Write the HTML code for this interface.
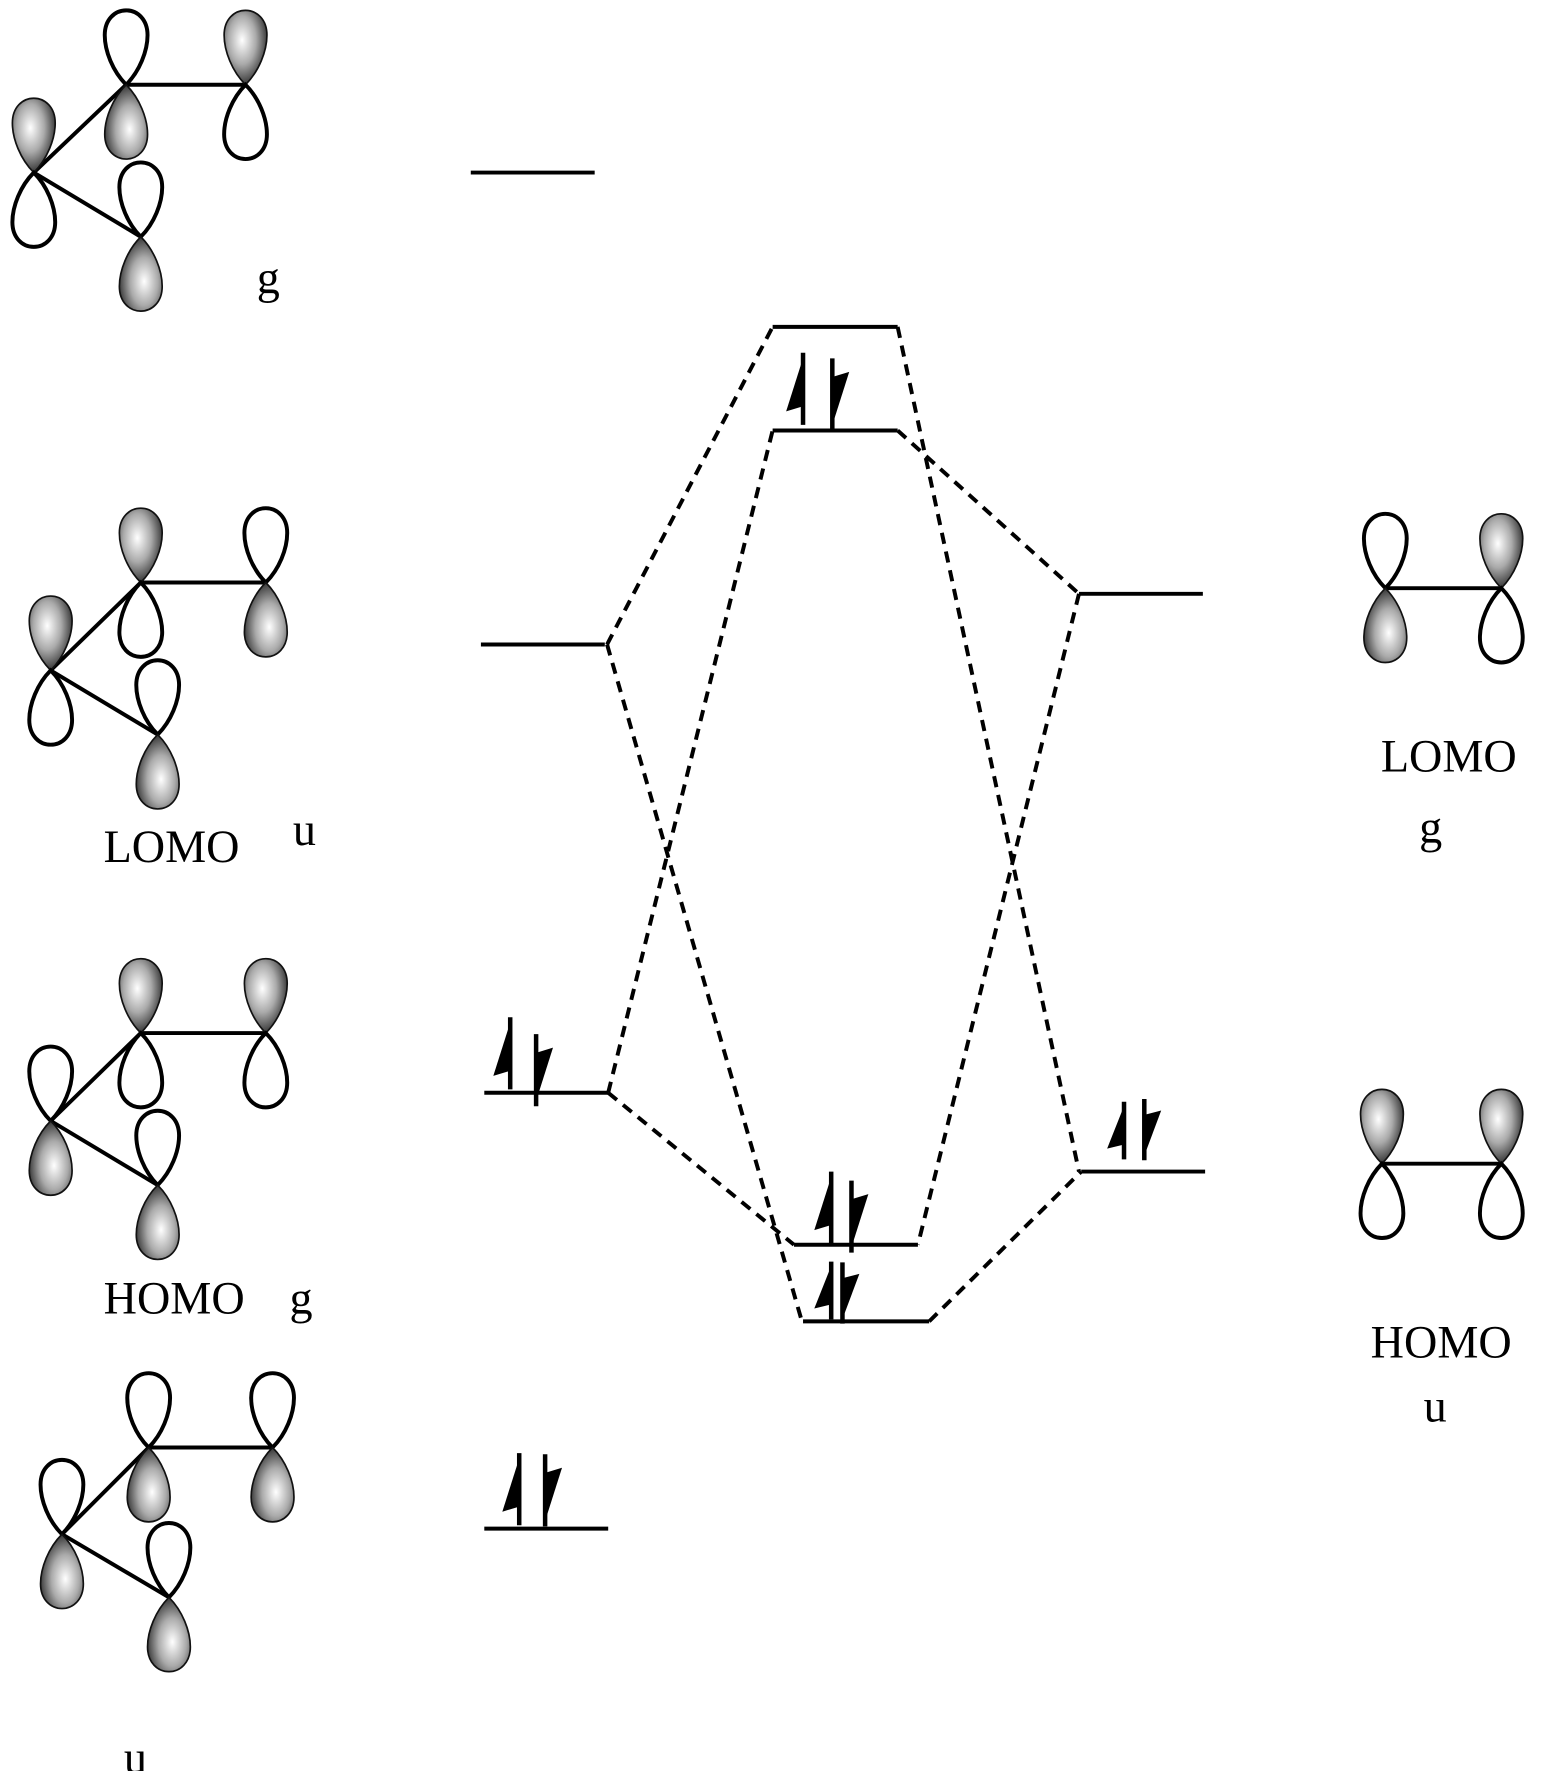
<!DOCTYPE html>
<html><head><meta charset="utf-8"><style>html,body{margin:0;padding:0;background:#fff}svg{display:block}</style></head>
<body>
<svg width="1543" height="1771" viewBox="0 0 1370 1572" xmlns="http://www.w3.org/2000/svg">
<defs>
<radialGradient id="sh" cx="0.42" cy="0.4" r="0.65">
<stop offset="0" stop-color="#fff"/><stop offset="0.5" stop-color="#aaa"/><stop offset="1" stop-color="#222"/>
</radialGradient>
<path id="lw" d="M0,0 C-12,-12 -19,-30 -19,-44 C-19,-58 -10,-66 0,-66 C10,-66 19,-58 19,-44 C19,-30 12,-12 0,0Z" fill="#fff" stroke="#000" stroke-width="3.5"/>
<path id="ls" d="M0,0 C-12,-12 -19,-30 -19,-44 C-19,-58 -10,-66 0,-66 C10,-66 19,-58 19,-44 C19,-30 12,-12 0,0Z" fill="url(#sh)" stroke="#111" stroke-width="1.5"/>
<g id="up"><line x1="0" y1="0" x2="0" y2="64" stroke="#000" stroke-width="4"/><path d="M1.5,0 L-15,52 L1.5,47 Z" fill="#000"/></g>
</defs>
<g font-family="Liberation Serif, serif" font-size="41" fill="#000">
<g stroke="#000" stroke-width="3.5">
<line x1="112" y1="75" x2="218" y2="75"/><line x1="112" y1="75" x2="30" y2="153"/><line x1="30" y1="153" x2="125" y2="210"/>
<line x1="125" y1="517" x2="236" y2="517"/><line x1="125" y1="517" x2="45" y2="595"/><line x1="45" y1="595" x2="140" y2="652"/>
<line x1="125" y1="917" x2="236" y2="917"/><line x1="125" y1="917" x2="45" y2="995"/><line x1="45" y1="995" x2="140" y2="1052"/>
<line x1="132" y1="1285" x2="242" y2="1285"/><line x1="132" y1="1285" x2="55" y2="1362"/><line x1="55" y1="1362" x2="150" y2="1418"/>
<line x1="1230" y1="522" x2="1333" y2="522"/><line x1="1227" y1="1033" x2="1333" y2="1033"/>
</g>
<use href="#lw" x="112" y="75"/><use href="#ls" transform="translate(112,75) rotate(180)"/>
<use href="#ls" x="218" y="75"/><use href="#lw" transform="translate(218,75) rotate(180)"/>
<use href="#ls" x="30" y="153"/><use href="#lw" transform="translate(30,153) rotate(180)"/>
<use href="#lw" x="125" y="210"/><use href="#ls" transform="translate(125,210) rotate(180)"/>
<text x="228" y="260">g</text>
<use href="#ls" x="125" y="517"/><use href="#lw" transform="translate(125,517) rotate(180)"/>
<use href="#lw" x="236" y="517"/><use href="#ls" transform="translate(236,517) rotate(180)"/>
<use href="#ls" x="45" y="595"/><use href="#lw" transform="translate(45,595) rotate(180)"/>
<use href="#lw" x="140" y="652"/><use href="#ls" transform="translate(140,652) rotate(180)"/>
<text x="92" y="765">LOMO</text><text x="260" y="750">u</text>
<use href="#ls" x="125" y="917"/><use href="#lw" transform="translate(125,917) rotate(180)"/>
<use href="#ls" x="236" y="917"/><use href="#lw" transform="translate(236,917) rotate(180)"/>
<use href="#lw" x="45" y="995"/><use href="#ls" transform="translate(45,995) rotate(180)"/>
<use href="#lw" x="140" y="1052"/><use href="#ls" transform="translate(140,1052) rotate(180)"/>
<text x="92" y="1166">HOMO</text><text x="257" y="1166">g</text>
<use href="#lw" x="132" y="1285"/><use href="#ls" transform="translate(132,1285) rotate(180)"/>
<use href="#lw" x="242" y="1285"/><use href="#ls" transform="translate(242,1285) rotate(180)"/>
<use href="#lw" x="55" y="1362"/><use href="#ls" transform="translate(55,1362) rotate(180)"/>
<use href="#lw" x="150" y="1418"/><use href="#ls" transform="translate(150,1418) rotate(180)"/>
<text x="110" y="1574">u</text>
<use href="#lw" x="1230" y="522"/><use href="#ls" transform="translate(1230,522) rotate(180)"/>
<use href="#ls" x="1333" y="522"/><use href="#lw" transform="translate(1333,522) rotate(180)"/>
<text x="1226" y="685">LOMO</text><text x="1260" y="748">g</text>
<use href="#ls" x="1227" y="1033"/><use href="#lw" transform="translate(1227,1033) rotate(180)"/>
<use href="#ls" x="1333" y="1033"/><use href="#lw" transform="translate(1333,1033) rotate(180)"/>
<text x="1217" y="1205">HOMO</text><text x="1264" y="1262">u</text>
</g>
<g stroke="#000" stroke-width="3.5" fill="none">
<line x1="418" y1="153" x2="528" y2="153"/>
<line x1="427" y1="572" x2="537" y2="572"/>
<line x1="430" y1="970" x2="540" y2="970"/>
<line x1="430" y1="1357" x2="540" y2="1357"/>
<line x1="686" y1="290" x2="797" y2="290"/>
<line x1="686" y1="382" x2="797" y2="382"/>
<line x1="705" y1="1105" x2="815" y2="1105"/>
<line x1="713" y1="1173" x2="825" y2="1173"/>
<line x1="958" y1="527" x2="1068" y2="527"/>
<line x1="960" y1="1040" x2="1070" y2="1040"/>
</g>
<g stroke="#000" stroke-width="3.5" fill="none" stroke-dasharray="10 7">
<line x1="539" y1="572" x2="686" y2="290"/>
<line x1="797" y1="290" x2="958" y2="1040"/>
<line x1="797" y1="382" x2="958" y2="527"/>
<line x1="958" y1="527" x2="815" y2="1105"/>
<line x1="540" y1="970" x2="686" y2="382"/>
<line x1="539" y1="572" x2="712" y2="1173"/>
<line x1="540" y1="970" x2="705" y2="1105"/>
<line x1="825" y1="1173" x2="960" y2="1040"/>
</g>
<g>
<use href="#up" x="713" y="313"/><use href="#up" transform="translate(739,382) rotate(180)"/>
<use href="#up" x="453" y="903"/><use href="#up" transform="translate(476,982) rotate(180)"/>
<use href="#up" x="461" y="1290"/><use href="#up" transform="translate(484,1355) rotate(180)"/>
<use href="#up" x="738" y="1040"/><use href="#up" transform="translate(756,1112) rotate(180)"/>
<use href="#up" transform="translate(738,1120) scale(1,0.8)"/><use href="#up" transform="translate(748,1175) rotate(180) scale(1,0.85)"/>
<use href="#up" transform="translate(998,978) scale(1,0.8)"/><use href="#up" transform="translate(1016,1030) scale(1,0.85) rotate(180)"/>
</g>
</svg>
</body></html>
